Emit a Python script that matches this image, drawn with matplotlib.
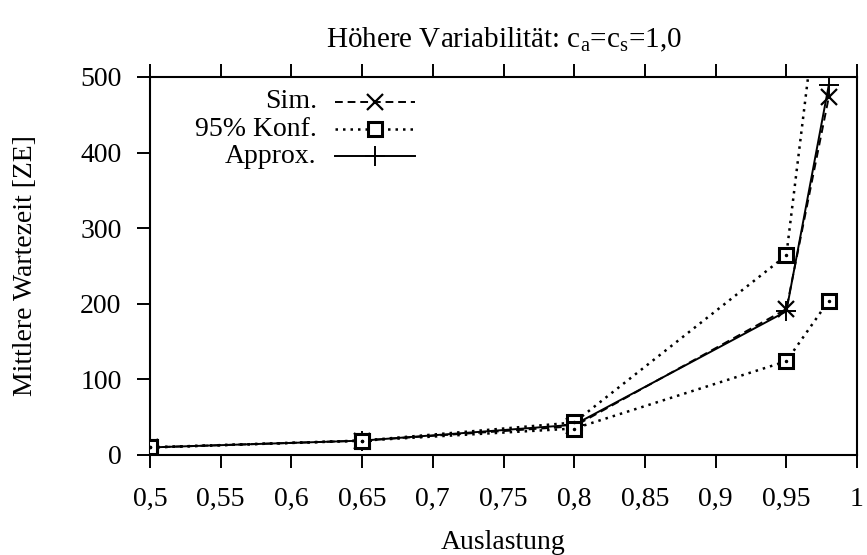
import numpy as np
import matplotlib
matplotlib.use("Agg")
import matplotlib.pyplot as plt
from matplotlib.ticker import FuncFormatter, MultipleLocator

plt.rcParams['font.family'] = ['Liberation Serif', 'DejaVu Serif']
plt.rcParams['mathtext.fontset'] = 'custom'
plt.rcParams['mathtext.rm'] = 'Liberation Serif'
plt.rcParams['mathtext.it'] = 'Liberation Serif:italic'

# data
auslastung = [0.5, 0.65, 0.8, 0.95, 0.98]
sim = [10, 19, 38, 193, 473]
konf_upper = [10, 19, 43, 264, 724]
konf_lower = [10, 19, 35, 124, 204]
approx = [10, 19, 40, 190, 489]

FS = 20

fig = plt.figure(figsize=(8.67, 5.55), dpi=100)
ax = fig.add_axes([0.173, 0.1802, 0.8155, 0.6811])

lw = 1.4
sim_style = dict(linestyle=(0, (4, 2.5)), linewidth=lw, marker='x', markersize=11, markeredgewidth=1.6)
konf_style = dict(linestyle=(0, (1, 2)), linewidth=1.8, marker='s', markersize=10,
                  markerfacecolor='white', markeredgewidth=2.2)
approx_style = dict(linestyle='-', linewidth=lw, marker='+', markersize=14, markeredgewidth=1.4)

ax.plot(auslastung, sim, color='black', zorder=3, **sim_style)
for konf in (konf_upper, konf_lower):
    ax.plot(auslastung, konf, color='black', zorder=4, **konf_style)
    ax.plot(auslastung, konf, linestyle='none', marker='.', markersize=3,
            color='black', zorder=5)
ax.plot(auslastung, approx, color='black', zorder=3, **approx_style)

ax.set_xlim(0.5, 1.0)
ax.set_ylim(0, 500)
ax.xaxis.set_major_locator(MultipleLocator(0.05))
ax.yaxis.set_major_locator(MultipleLocator(100))
ax.xaxis.set_major_formatter(FuncFormatter(lambda v, p: f"{v:g}".replace('.', ',')))

for s in ax.spines.values():
    s.set_linewidth(1.5)
ax.tick_params(axis='x', which='both', direction='out', top=True, bottom=True,
               length=9.5, width=1.4, labelsize=FS, pad=13.5)
ax.tick_params(axis='y', direction='out', left=True, right=False,
               length=9.5, width=1.4, labelsize=FS, pad=11)

ax.set_xlabel('Auslastung', fontsize=FS, labelpad=13)
ax.set_ylabel('Mittlere Wartezeit [ZE]', fontsize=FS, labelpad=30.5)
ax.set_title('Höhere Variabilität: c$_\\mathrm{a}$=c$_\\mathrm{s}$=1,0', fontsize=21, pad=21)

# key, gnuplot style: text right-aligned, sample to the right
keys = [('Sim.', sim_style), ('95% Konf.', konf_style), ('Approx.', approx_style)]
rows = [0.934, 0.862, 0.79]
for (label, style), yk in zip(keys, rows):
    ax.text(0.236, yk, label, transform=ax.transAxes, ha='right', va='center', fontsize=FS)
    ax.plot([0.262, 0.375], [yk, yk], transform=ax.transAxes, color='black',
            linestyle=style['linestyle'], linewidth=style['linewidth'])
    st = {k: v for k, v in style.items() if k not in ('linestyle', 'linewidth')}
    ax.plot([0.318], [yk], transform=ax.transAxes, color='black', linestyle='none', **st)

fig.savefig('out.png', dpi=100)
